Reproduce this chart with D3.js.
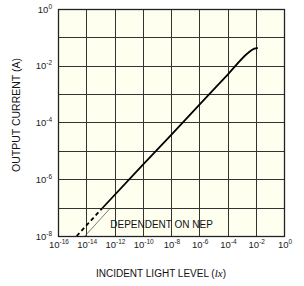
<!DOCTYPE html>
<html>
<head>
<meta charset="utf-8">
<script src="https://cdn.jsdelivr.net/npm/d3@7"></script>
<style>
  body { margin: 0; background: #fff; }
  svg { display: block; font-family: "Liberation Sans", Arial, sans-serif; }
</style>
</head>
<body>
<svg width="304" height="286"></svg>
<script>
// tick exponents
var xTickExp = [-16, -14, -12, -10, -8, -6, -4, -2, 0];
var yTickExp = [-8, -6, -4, -2, 0];
var yGridExp = [-8, -7, -6, -5, -4, -3, -2, -1, 0];

// output current vs incident light
var lux    = [1.3e-13, 1e-10, 1e-8, 1e-6, 1e-4, 2.8e-3, 5e-3, 7.9e-3, 1.4e-2];
var amps   = [9.3e-8, 3.2e-6, 3.6e-5, 4.2e-4, 4.8e-3, 2.8e-2, 3.5e-2, 4.0e-2, 4.3e-2];

// dashed low end (dependent on NEP)
var dashLux  = [2.1e-15, 1.3e-13];
var dashAmps = [1e-8, 9.3e-8];

// thin bracket beside the dashed part
var nepLux  = [1.3e-13, 4.8e-13, 8.1e-15];
var nepAmps = [9.3e-8, 9.3e-8, 1e-8];

var svg = d3.select("svg"),
    margin = {top: 9, right: 20, bottom: 50, left: 58},
    width = 304 - margin.left - margin.right,
    height = 286 - margin.top - margin.bottom,
    g = svg.append("g").attr("transform", "translate(" + margin.left + "," + margin.top + ")");

var x = d3.scaleLog().domain([1e-16, 1]).range([0, width]);
var y = d3.scaleLog().domain([1e-8, 1]).range([height, 0]);

// plot background
g.append("rect")
    .attr("width", width)
    .attr("height", height)
    .attr("fill", "#fffff0");

// grid
g.selectAll(".vgrid")
    .data(xTickExp)
  .enter().append("line")
    .attr("x1", function(d) { return Math.round(x(Math.pow(10, d))) + 0.5; })
    .attr("x2", function(d) { return Math.round(x(Math.pow(10, d))) + 0.5; })
    .attr("y1", 0).attr("y2", height)
    .attr("stroke", "#333")
    .attr("stroke-width", 1);

g.selectAll(".hgrid")
    .data(yGridExp)
  .enter().append("line")
    .attr("x1", 0).attr("x2", width)
    .attr("y1", function(d) { return Math.round(y(Math.pow(10, d))) + 0.5; })
    .attr("y2", function(d) { return Math.round(y(Math.pow(10, d))) + 0.5; })
    .attr("stroke", "#333")
    .attr("stroke-width", 1);

// frame
g.append("rect")
    .attr("x", 0.5).attr("y", 0.5)
    .attr("width", width).attr("height", height)
    .attr("fill", "none")
    .attr("stroke", "#222")
    .attr("stroke-width", 1.3);

// curves
var line = d3.line()
    .x(function(d) { return x(d[0]); })
    .y(function(d) { return y(d[1]); });

g.append("path")
    .datum(d3.zip(lux, amps))
    .attr("fill", "none")
    .attr("stroke", "#000")
    .attr("stroke-width", 1.8)
    .attr("d", line.curve(d3.curveMonotoneX));

g.append("path")
    .datum(d3.zip(dashLux, dashAmps))
    .attr("fill", "none")
    .attr("stroke", "#000")
    .attr("stroke-width", 1.8)
    .attr("stroke-dasharray", "4,3")
    .attr("d", line.curve(d3.curveLinear));

g.append("path")
    .datum(d3.zip(nepLux, nepAmps))
    .attr("fill", "none")
    .attr("stroke", "#444")
    .attr("stroke-width", 0.7)
    .attr("d", line.curve(d3.curveLinear));

g.append("text")
    .attr("x", x(5e-13))
    .attr("y", y(1.9e-8))
    .attr("fill", "#111")
    .style("font-size", "10px")
    .text("DEPENDENT ON NEP");

// tick labels
var xl = g.selectAll(".xlab")
    .data(xTickExp)
  .enter().append("text")
    .attr("x", function(d) { return x(Math.pow(10, d)) + 1; })
    .attr("y", height + 12)
    .attr("text-anchor", "middle")
    .attr("fill", "#222")
    .style("font-size", "9.5px");
xl.append("tspan").text("10");
xl.append("tspan")
    .attr("dy", -4)
    .style("font-size", "6.5px")
    .text(function(d) { return d === 0 ? "0" : "-" + (-d); });

var yl = g.selectAll(".ylab")
    .data(yTickExp)
  .enter().append("text")
    .attr("x", -6)
    .attr("y", function(d) { return y(Math.pow(10, d)) + 3.5; })
    .attr("text-anchor", "end")
    .attr("fill", "#222")
    .style("font-size", "9.5px");
yl.append("tspan").text("10");
yl.append("tspan")
    .attr("dy", -4)
    .style("font-size", "6.5px")
    .text(function(d) { return d === 0 ? "0" : "-" + (-d); });

// axis titles
var xt = svg.append("text")
    .attr("x", 161)
    .attr("y", 277)
    .attr("text-anchor", "middle")
    .attr("fill", "#111")
    .style("font-size", "10px")
    .text("INCIDENT LIGHT LEVEL (");
xt.append("tspan")
    .style("font-family", "'Liberation Serif', serif")
    .style("font-style", "italic")
    .style("font-size", "11px")
    .text("lx");
xt.append("tspan").text(")");

svg.append("text")
    .attr("transform", "translate(20,115) rotate(-90)")
    .attr("text-anchor", "middle")
    .attr("fill", "#111")
    .style("font-size", "10.5px")
    .text("OUTPUT CURRENT (A)");
</script>
</body>
</html>
